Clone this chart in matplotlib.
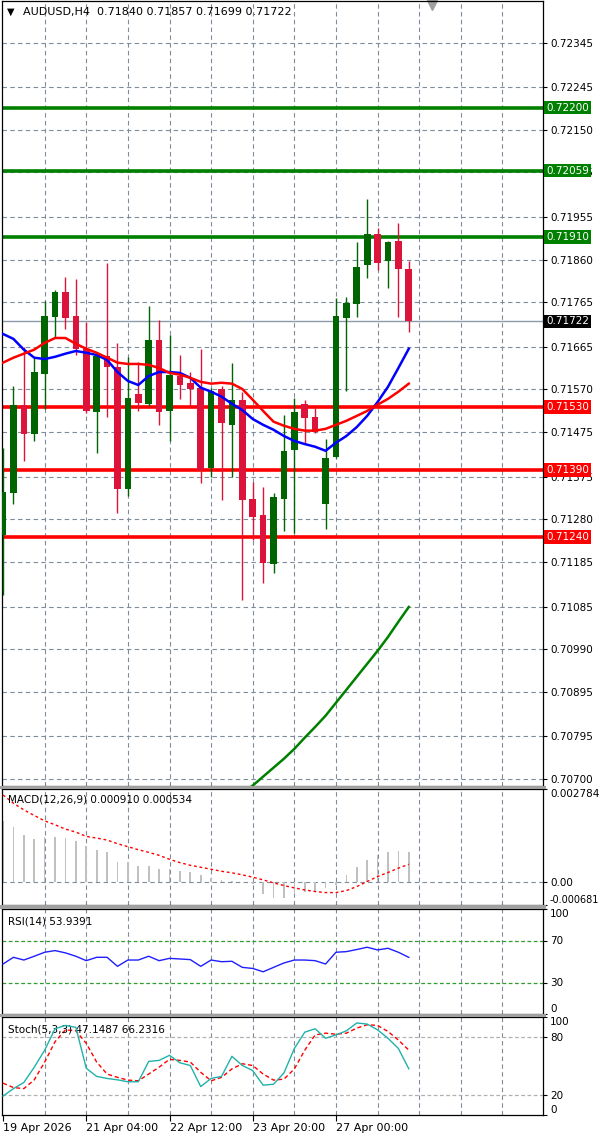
import matplotlib
matplotlib.use("Agg")
import matplotlib.pyplot as plt
import matplotlib.transforms as mtransforms
from matplotlib.patches import Rectangle
import numpy as np

plt.rcParams['font.family'] = ['DejaVu Sans']

title_text = "AUDUSD,H4  0.71840 0.71857 0.71699 0.71722"

# H4 candles, bar 0 = 19 Apr 2026 20:00
opens = [0.71245, 0.71339, 0.71536, 0.71471, 0.71605, 0.71732, 0.71788, 0.71734, 0.71661, 0.71520,
         0.71645, 0.71621, 0.71348, 0.71560, 0.71538, 0.71681, 0.71522, 0.71600, 0.71585, 0.71574,
         0.71395, 0.71571, 0.71491, 0.71547, 0.71326, 0.71290, 0.71180, 0.71326, 0.71435, 0.71538,
         0.71509, 0.71314, 0.71419, 0.71730, 0.71761, 0.71848, 0.71918, 0.71857, 0.71902, 0.71840]
highs = [0.71440, 0.71578, 0.71665, 0.71641, 0.71768, 0.71793, 0.71822, 0.71817, 0.71721, 0.71654,
         0.71853, 0.71674, 0.71643, 0.71632, 0.71757, 0.71726, 0.71692, 0.71647, 0.71609, 0.71661,
         0.71574, 0.71578, 0.71629, 0.71565, 0.71364, 0.71352, 0.71339, 0.71513, 0.71551, 0.71547,
         0.71529, 0.71460, 0.71775, 0.71777, 0.71900, 0.71996, 0.71931, 0.71902, 0.71942, 0.71857]
lows = [0.71111, 0.71314, 0.71411, 0.71455, 0.71527, 0.71688, 0.71705, 0.71647, 0.71518, 0.71428,
        0.71509, 0.71294, 0.71332, 0.71522, 0.71534, 0.71491, 0.71455, 0.71549, 0.71534, 0.71361,
        0.71375, 0.71323, 0.71375, 0.71100, 0.71234, 0.71138, 0.71160, 0.71254, 0.71250, 0.71451,
        0.71473, 0.71259, 0.71417, 0.71567, 0.71732, 0.71819, 0.71837, 0.71797, 0.71732, 0.71699]
closes = [0.71341, 0.71536, 0.71471, 0.71609, 0.71734, 0.71788, 0.71730, 0.71661, 0.71522, 0.71645,
          0.71621, 0.71348, 0.71551, 0.71540, 0.71681, 0.71520, 0.71603, 0.71580, 0.71571, 0.71390,
          0.71567, 0.71495, 0.71547, 0.71323, 0.71285, 0.71183, 0.71330, 0.71433, 0.71520, 0.71507,
          0.71475, 0.71417, 0.71734, 0.71764, 0.71844, 0.71918, 0.71853, 0.71900, 0.71840, 0.71722]

ma_blue = [0.71694, 0.71683, 0.71659, 0.71641, 0.71638, 0.71643, 0.71650, 0.71656, 0.71652, 0.71647,
           0.71636, 0.71609, 0.71589, 0.71580, 0.71600, 0.71609, 0.71609, 0.71607, 0.71596, 0.71574,
           0.71565, 0.71554, 0.71538, 0.71524, 0.71504, 0.71491, 0.71480, 0.71466, 0.71455, 0.71448,
           0.71442, 0.71433, 0.71451, 0.71466, 0.71486, 0.71511, 0.71542, 0.71576, 0.71618, 0.71661]
ma_red = [0.71630, 0.71641, 0.71650, 0.71659, 0.71674, 0.71685, 0.71685, 0.71672, 0.71661, 0.71652,
          0.71641, 0.71630, 0.71627, 0.71627, 0.71625, 0.71618, 0.71607, 0.71603, 0.71596, 0.71587,
          0.71583, 0.71585, 0.71583, 0.71571, 0.71547, 0.71522, 0.71498, 0.71489, 0.71482, 0.71478,
          0.71478, 0.71482, 0.71491, 0.71500, 0.71511, 0.71522, 0.71536, 0.71549, 0.71565, 0.71583]
ma_green_start = 23
ma_green = [0.70664, 0.70685, 0.70705, 0.70725, 0.70745, 0.70767, 0.70792, 0.70816, 0.70841,
            0.70870, 0.70899, 0.70928, 0.70957, 0.70986, 0.71017, 0.71051, 0.71084]

macd_hist = [0.001833, 0.001635, 0.001397, 0.001298, 0.001348, 0.001358, 0.001318, 0.001239, 0.001070, 0.000971,
             0.000892, 0.000595, 0.000595, 0.000476, 0.000476, 0.000406, 0.000396, 0.000327, 0.000307, 0.000228,
             0.000129, 0.000060, 0.000030, 0.000020, -0.000050, -0.000367, -0.000466, -0.000466, -0.000367, -0.000287,
             -0.000248, -0.000188, -0.000070, 0.000228, 0.000446, 0.000674, 0.000823, 0.000902, 0.000941, 0.000910]
macd_signal = [0.002606, 0.002359, 0.002160, 0.001992, 0.001833, 0.001714, 0.001586, 0.001496, 0.001368, 0.001318,
               0.001259, 0.001150, 0.001060, 0.000971, 0.000892, 0.000803, 0.000684, 0.000585, 0.000505, 0.000446,
               0.000387, 0.000327, 0.000280, 0.000220, 0.000150, 0.000070, -0.000020, -0.000100, -0.000170, -0.000230,
               -0.000280, -0.000310, -0.000310, -0.000250, -0.000130, 0.000020, 0.000170, 0.000290, 0.000420, 0.000534]

rsi = [47.6, 54.0, 51.4, 55.0, 58.8, 60.4, 58.2, 55.0, 50.8, 54.0,
       54.0, 45.4, 51.4, 51.4, 55.0, 50.8, 53.0, 52.4, 51.8, 45.4,
       51.4, 49.8, 50.2, 44.4, 43.4, 40.2, 44.4, 48.6, 51.4, 51.4,
       50.8, 47.6, 58.8, 59.4, 61.4, 63.6, 61.0, 62.6, 58.8, 53.94]

stoch_main = [19.3, 26.9, 33.2, 48.8, 66.1, 88.0, 91.4, 89.4, 47.7, 39.4,
              37.3, 35.9, 33.9, 33.9, 54.7, 55.7, 60.9, 53.3, 50.5, 29.0,
              37.3, 39.4, 59.9, 50.5, 45.3, 30.4, 31.4, 42.9, 67.9, 84.5,
              88.0, 78.3, 81.7, 85.9, 93.9, 92.8, 86.9, 78.3, 67.9, 47.15]
stoch_signal = [32.5, 28.0, 26.9, 35.9, 54.0, 74.8, 86.9, 85.9, 73.1, 54.0,
                41.8, 38.4, 35.6, 34.9, 41.8, 48.8, 56.8, 55.7, 54.0, 43.6,
                34.9, 38.4, 47.0, 52.3, 50.5, 41.8, 35.6, 36.6, 47.0, 66.1,
                81.7, 83.5, 82.4, 83.5, 88.7, 92.1, 91.4, 85.2, 76.5, 66.23]

price_ticks = [0.72345, 0.72245, 0.72150, 0.72055, 0.71955, 0.71860, 0.71765, 0.71665, 0.71570,
               0.71475, 0.71375, 0.71280, 0.71185, 0.71085, 0.70990, 0.70895, 0.70795, 0.70700]
green_levels = [0.72200, 0.72059, 0.71910]
red_levels = [0.71530, 0.71390, 0.71240]
last_price = 0.71722

date_bars = [0, 8, 16, 24, 32]
date_labels = ["19 Apr 2026", "21 Apr 04:00", "22 Apr 12:00", "23 Apr 20:00", "27 Apr 00:00"]

BULL = "#006400"
BEAR = "#DC143C"
GRID = "#7F8C9C"
GRID_DASH = (0, (4, 3))

W, H = 600, 1139
fig = plt.figure(figsize=(W / 100, H / 100), dpi=100)


def px_axes(top, bottom):
    return fig.add_axes([2 / W, 1 - bottom / H, 541 / W, (bottom - top) / H])


ax = px_axes(1, 786)
ax_macd = px_axes(789, 905)
ax_rsi = px_axes(909, 1014)
ax_sto = px_axes(1017, 1115)
axes = [ax, ax_macd, ax_rsi, ax_sto]

for y0, y1 in [(786, 789), (905, 909), (1014, 1017)]:
    fig.patches.append(Rectangle((0, 1 - y1 / H), 546 / W, (y1 - y0) / H,
                                 transform=fig.transFigure, facecolor="#A0A0A0", edgecolor="none"))

x = np.arange(len(closes))
for a in axes:
    a.set_xlim(-0.1, 51.9)
    a.set_facecolor("white")
    for s in a.spines.values():
        s.set_color("black")
        s.set_linewidth(0.9)
    for gx in range(4, 52, 4):
        a.axvline(gx, color=GRID, lw=0.8, ls=GRID_DASH, zorder=0)
    a.yaxis.tick_right()
    a.tick_params(axis="y", direction="out", length=3, width=0.8, labelsize=7.5, pad=2, colors="black")
    a.tick_params(axis="x", bottom=False, labelbottom=False)

# main chart
ax.set_ylim(0.70684, 0.72438)
ax.set_yticks(price_ticks)
ax.set_yticklabels(["%.5f" % t for t in price_ticks])
for t in price_ticks:
    ax.axhline(t, color=GRID, lw=0.8, ls=GRID_DASH, zorder=0)

ax.axhline(last_price, color="#8C9AAA", lw=1.0, zorder=1)
for lv in green_levels:
    ax.axhline(lv, color="#008000", lw=2.6, zorder=2)
for lv in red_levels:
    ax.axhline(lv, color="#FF0000", lw=2.6, zorder=2)

for i in x:
    o, h, l, c = opens[i], highs[i], lows[i], closes[i]
    col = BULL if c >= o else BEAR
    ax.vlines(i, l, h, color=col, lw=1.0, zorder=3)
    ax.bar(i, max(abs(c - o), 0.00002), bottom=min(o, c), width=0.64, color=col, zorder=4)

ax.plot(x, ma_blue, color="#0000FF", lw=1.8, zorder=5)
ax.plot(x, ma_red, color="#FF0000", lw=1.8, zorder=5)
ax.plot(np.arange(ma_green_start, ma_green_start + len(ma_green)), ma_green, color="#008000", lw=1.8, zorder=5)

ytr = mtransforms.blended_transform_factory(ax.transAxes, ax.transData)
for lv in green_levels:
    ax.text(1.006, lv, "%.5f" % lv, transform=ytr, color="white", fontsize=7.5, va="center", ha="left",
            bbox=dict(boxstyle="square,pad=0.18", fc="#008000", ec="none"), clip_on=False, zorder=10)
for lv in red_levels:
    ax.text(1.006, lv, "%.5f" % lv, transform=ytr, color="white", fontsize=7.5, va="center", ha="left",
            bbox=dict(boxstyle="square,pad=0.18", fc="#FF0000", ec="none"), clip_on=False, zorder=10)
ax.text(1.006, last_price, "%.5f" % last_price, transform=ytr, color="white", fontsize=7.5, va="center",
        ha="left", bbox=dict(boxstyle="square,pad=0.18", fc="black", ec="none"), clip_on=False, zorder=10)

ax.text(5 / 541, 1 - 11 / 785, "\u25bc", transform=ax.transAxes, fontsize=7, va="center", ha="left")
ax.text(21 / 541, 1 - 11 / 785, title_text, transform=ax.transAxes, fontsize=8, va="center", ha="left")
ax.plot([430 / 541], [1 - 4 / 785], marker="v", ms=7, color="#A0A0A0", transform=ax.transAxes, clip_on=False)

# MACD
ax_macd.set_ylim(-0.000681, 0.002784)
ax_macd.bar(x, macd_hist, width=0.16, color="#C0C0C0", zorder=2)
ax_macd.plot(x, macd_signal, color="#FF0000", lw=1.0, ls=(0, (2, 2)), zorder=3)
ax_macd.axhline(0, color=GRID, lw=0.8, ls=GRID_DASH, zorder=0)
ax_macd.set_yticks([-0.000681, 0.0, 0.002784])
ax_macd.set_yticklabels(["-0.000681", "0.00", "0.002784"])
ax_macd.text(6 / 541, 1 - 11 / 116, "MACD(12,26,9) 0.000910 0.000534", transform=ax_macd.transAxes,
             fontsize=7.5, va="center", ha="left")

# RSI
ax_rsi.set_ylim(0, 100)
for lv in [70, 30]:
    ax_rsi.axhline(lv, color="#2E9E2E", lw=0.9, ls=(0, (3, 2)), zorder=1)
ax_rsi.plot(x, rsi, color="#1E1EFF", lw=1.0, zorder=3)
ax_rsi.set_yticks([0, 30, 70, 100])
ax_rsi.set_yticklabels(["0", "30", "70", "100"])
ax_rsi.text(6 / 541, 1 - 12 / 105, "RSI(14) 53.9391", transform=ax_rsi.transAxes,
            fontsize=7.5, va="center", ha="left")

# Stochastic
ax_sto.set_ylim(0, 100)
for lv in [80, 20]:
    ax_sto.axhline(lv, color="#B0B0B0", lw=0.9, ls=(0, (3, 2)), zorder=1)
ax_sto.plot(x, stoch_signal, color="#FF0000", lw=1.0, ls=(0, (3, 2)), zorder=3)
ax_sto.plot(x, stoch_main, color="#20B2AA", lw=1.0, zorder=4)
ax_sto.set_yticks([0, 20, 80, 100])
ax_sto.set_yticklabels(["0", "20", "80", "100"])
ax_sto.text(6 / 541, 1 - 13 / 98, "Stoch(5,3,3) 47.1487 66.2316", transform=ax_sto.transAxes,
            fontsize=7.5, va="center", ha="left")

for a in [ax_macd, ax_rsi, ax_sto]:
    labels = a.get_yticklabels()
    labels[0].set_va("bottom")
    labels[-1].set_va("top")
ax_macd.get_yticklabels()[0].set_fontsize(7)

ax_sto.set_xticks(date_bars)
ax_sto.set_xticklabels(date_labels)
ax_sto.tick_params(axis="x", bottom=True, labelbottom=True, direction="out", length=4, width=0.8,
                   labelsize=8, pad=2)
for lbl in ax_sto.get_xticklabels():
    lbl.set_ha("left")

fig.savefig("out.png", dpi=100, facecolor="white")
